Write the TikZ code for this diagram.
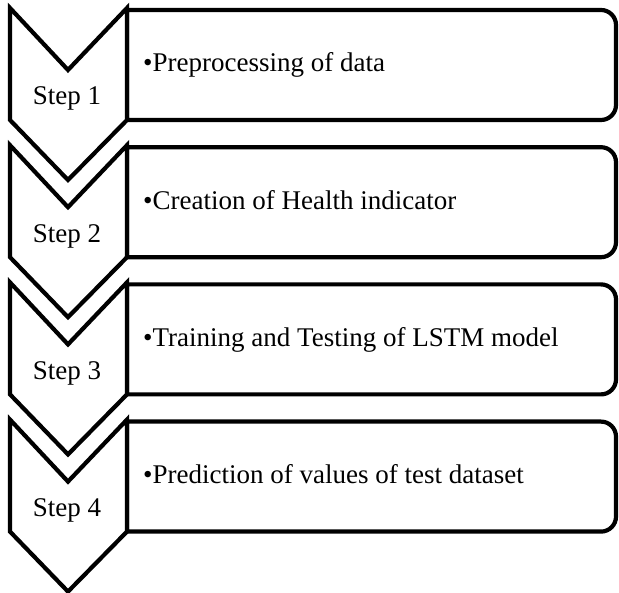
\documentclass[tikz,border=0pt]{standalone}
\usepackage{fontspec}
\setmainfont{Liberation Serif}
\tikzset{
  shapeline/.style={draw=black, line width=4.2pt, line join=miter, fill=white},
  steplabel/.style={font=\fontsize{27}{31}\selectfont, anchor=base, inner sep=0pt},
  itemlabel/.style={font=\fontsize{27}{31}\selectfont, anchor=base west, inner sep=0pt}
}
\begin{document}
\begin{tikzpicture}[x=1pt,y=1pt]
\useasboundingbox (0,0) rectangle (619,593);
\foreach \i/\lbl/\txt in {0/Step 1/Preprocessing of data,
                          1/Step 2/Creation of Health indicator,
                          2/Step 3/Training and Testing of LSTM model,
                          3/Step 4/Prediction of values of test dataset}{
  \pgfmathsetmacro\yo{585-\i*137.2}
  % rounded box
  \draw[shapeline] (127,{\yo-2}) -- (601,{\yo-2})
      arc[start angle=90,end angle=0,radius=15]
      -- (616,{\yo-97})
      arc[start angle=0,end angle=-90,radius=15]
      -- (127,{\yo-112}) -- cycle;
  % chevron
  \draw[shapeline] (10,\yo) -- (68,{\yo-62}) -- (127,\yo) -- (127,{\yo-112})
      -- (68,{\yo-172}) -- (10,{\yo-112}) -- cycle;
  \node[steplabel] (step\i) at (67,{\yo-97}) {\lbl};
  \node[itemlabel] (txt\i) at (143,{\yo-64}) {\textbullet\txt};
}
\end{tikzpicture}
\end{document}
